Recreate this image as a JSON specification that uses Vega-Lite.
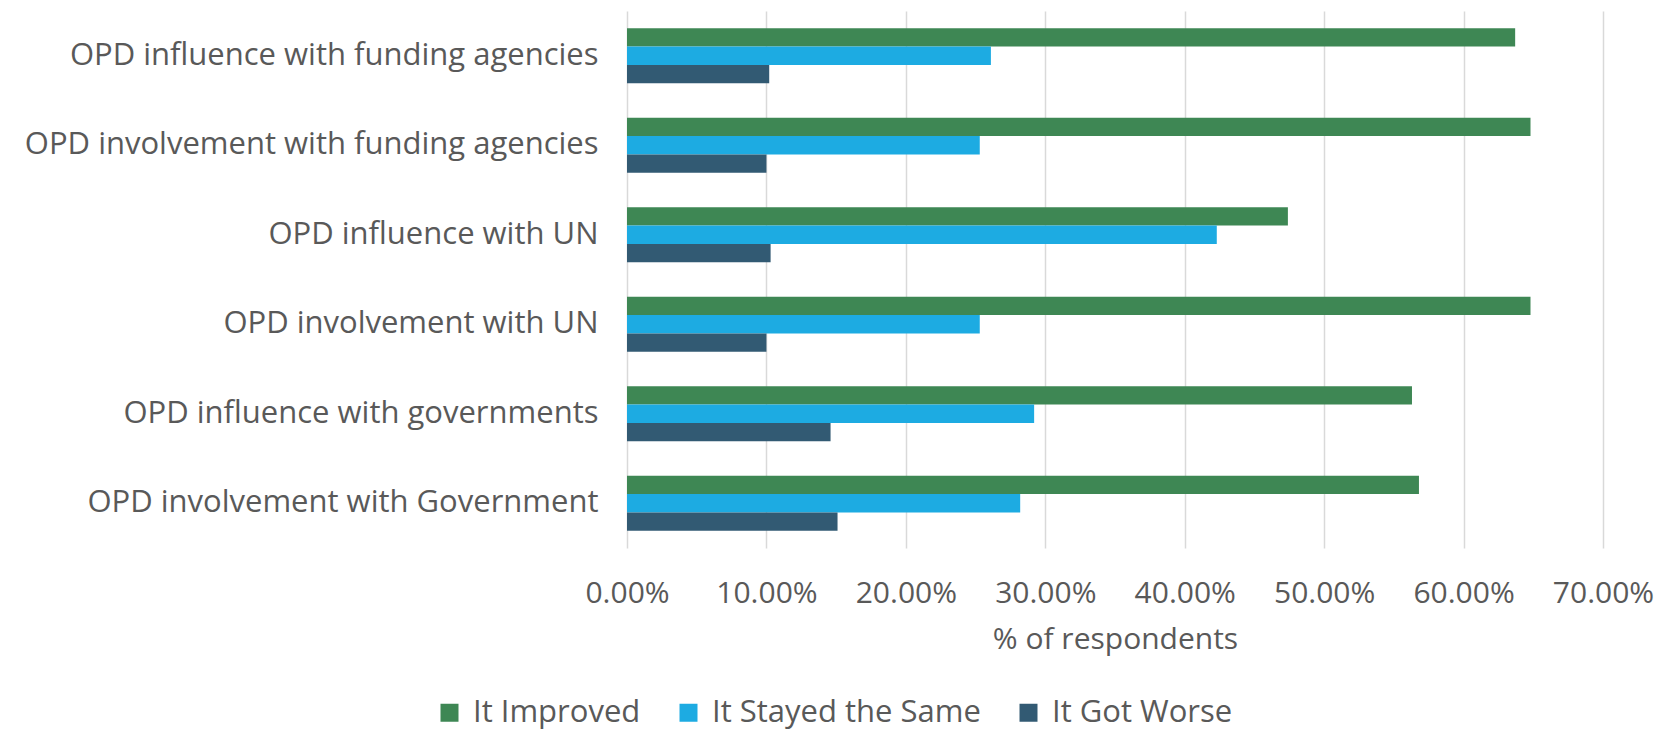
{
  "$schema": "https://vega.github.io/schema/vega-lite/v6.json",
  "autosize": "none",
  "width": 976,
  "height": 537,
  "padding": {"left": 627, "top": 11, "right": 65, "bottom": 186},
  "background": "white",
  "config": {
    "view": {"stroke": null},
    "font": "Open Sans",
    "text": {"font": "Open Sans"}
  },
  "data": {
    "values": [
      {"category": "OPD influence with funding agencies", "status": "It Improved", "pct": 0.637},
      {"category": "OPD influence with funding agencies", "status": "It Stayed the Same", "pct": 0.261},
      {"category": "OPD influence with funding agencies", "status": "It Got Worse", "pct": 0.102},
      {"category": "OPD involvement with funding agencies", "status": "It Improved", "pct": 0.648},
      {"category": "OPD involvement with funding agencies", "status": "It Stayed the Same", "pct": 0.253},
      {"category": "OPD involvement with funding agencies", "status": "It Got Worse", "pct": 0.100},
      {"category": "OPD influence with UN", "status": "It Improved", "pct": 0.474},
      {"category": "OPD influence with UN", "status": "It Stayed the Same", "pct": 0.423},
      {"category": "OPD influence with UN", "status": "It Got Worse", "pct": 0.103},
      {"category": "OPD involvement with UN", "status": "It Improved", "pct": 0.648},
      {"category": "OPD involvement with UN", "status": "It Stayed the Same", "pct": 0.253},
      {"category": "OPD involvement with UN", "status": "It Got Worse", "pct": 0.100},
      {"category": "OPD influence with governments", "status": "It Improved", "pct": 0.563},
      {"category": "OPD influence with governments", "status": "It Stayed the Same", "pct": 0.292},
      {"category": "OPD influence with governments", "status": "It Got Worse", "pct": 0.146},
      {"category": "OPD involvement with Government", "status": "It Improved", "pct": 0.568},
      {"category": "OPD involvement with Government", "status": "It Stayed the Same", "pct": 0.282},
      {"category": "OPD involvement with Government", "status": "It Got Worse", "pct": 0.151}
    ]
  },
  "mark": {"type": "bar"},
  "encoding": {
    "y": {
      "field": "category",
      "type": "nominal",
      "sort": null,
      "scale": {"paddingInner": 0.385, "paddingOuter": 0.1925},
      "axis": {
        "title": null,
        "domain": false,
        "ticks": false,
        "labelFontSize": 31,
        "labelColor": "#595959",
        "labelPadding": 29,
        "labelLimit": 700
      }
    },
    "yOffset": {
      "field": "status",
      "type": "nominal",
      "sort": ["It Improved", "It Stayed the Same", "It Got Worse"],
      "scale": {"paddingInner": 0, "paddingOuter": 0}
    },
    "x": {
      "field": "pct",
      "type": "quantitative",
      "scale": {"domain": [0, 0.7], "nice": false},
      "axis": {
        "title": "% of respondents",
        "values": [0, 0.1, 0.2, 0.3, 0.4, 0.5, 0.6, 0.7],
        "format": ".2%",
        "domain": false,
        "ticks": false,
        "grid": true,
        "gridColor": "#d9d9d9",
        "gridWidth": 1.5,
        "labelFontSize": 30,
        "labelColor": "#595959",
        "labelPadding": 30,
        "labelFlush": false,
        "titleFontSize": 30,
        "titleFontWeight": "normal",
        "titleColor": "#595959",
        "titlePadding": 16
      }
    },
    "color": {
      "field": "status",
      "type": "nominal",
      "sort": ["It Improved", "It Stayed the Same", "It Got Worse"],
      "scale": {
        "domain": ["It Improved", "It Stayed the Same", "It Got Worse"],
        "range": ["#3e8754", "#1dabe2", "#325a73"]
      },
      "legend": {
        "title": null,
        "orient": "none",
        "direction": "horizontal",
        "legendX": -193,
        "legendY": 686,
        "symbolType": "square",
        "symbolSize": 324,
        "symbolStrokeWidth": 0,
        "labelFontSize": 31,
        "labelColor": "#595959",
        "labelOffset": 8,
        "columnPadding": 32,
        "labelLimit": 400
      }
    }
  }
}
